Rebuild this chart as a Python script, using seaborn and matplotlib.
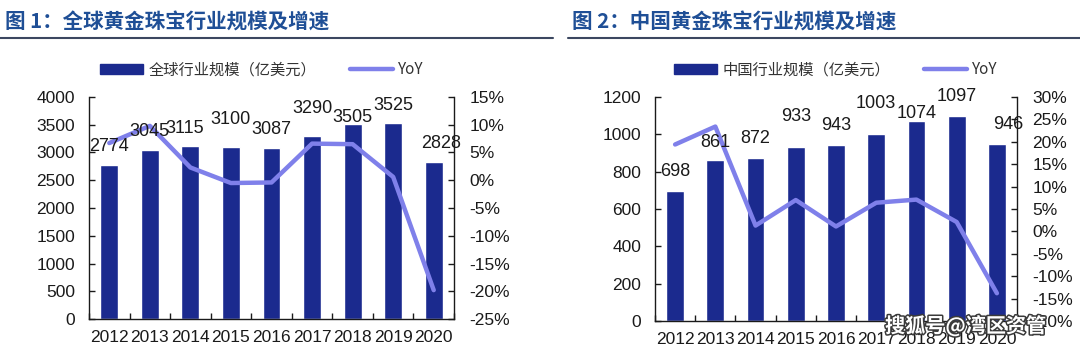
import numpy as np
import matplotlib
matplotlib.use('Agg')
import matplotlib.pyplot as plt
import matplotlib.patheffects as pe
from matplotlib.patches import Patch
from matplotlib.lines import Line2D
from matplotlib.ticker import FuncFormatter, MultipleLocator
import seaborn as sns

# data
years = ['2012', '2013', '2014', '2015', '2016', '2017', '2018', '2019', '2020']
global_size = [2774, 3045, 3115, 3100, 3087, 3290, 3505, 3525, 2828]
global_yoy = [6.7, 9.8, 2.3, -0.5, -0.4, 6.6, 6.5, 0.6, -19.8]
china_size = [698, 861, 872, 933, 943, 1003, 1074, 1097, 946]
china_yoy = [19.4, 23.4, 1.3, 7.0, 1.1, 6.4, 7.1, 2.1, -13.8]

title_left = '图 1：全球黄金珠宝行业规模及增速'
title_right = '图 2：中国黄金珠宝行业规模及增速'
legend_left = '全球行业规模（亿美元）'
legend_right = '中国行业规模（亿美元）'
watermark = '搜狐号@湾区资管'

# label nudges (points) to mimic the hand placed labels
nudge_left = [(0, 13), (0, 13), (-4, 13), (0, 20), (0, 13), (0, 20), (0, 5), (0, 13), (5, 13)]
nudge_right = [(0, 14), (0, 13), (0, 14), (0, 22), (0, 14), (0, 22), (0, 5), (0, 14), (8, 14)]

BAR = '#1b2a8e'
LINE = '#7f80ea'
TITLE = '#1f4f96'
TXT = '#1a1a1a'

sns.set_theme(style='white')
plt.rcParams['font.family'] = ['Liberation Sans', 'Noto Sans CJK SC', 'DejaVu Sans']
CJK = ['Noto Sans CJK SC', 'DejaVu Sans']

fig = plt.figure(figsize=(10.8, 3.52), dpi=100)
ax_l = fig.add_axes([89 / 1080, 1 - 319 / 352, 365 / 1080, 222 / 352])
ax_r = fig.add_axes([655 / 1080, 1 - 321 / 352, 362 / 1080, 224 / 352])


def draw(ax, sizes, yoy, ylim, ystep, ylim2, nudges):
    sns.barplot(x=years, y=sizes, color=BAR, saturation=1, width=0.44, ax=ax)
    ax.set_xlim(-0.5, len(years) - 0.5)
    ax.set_ylim(*ylim)
    ax.yaxis.set_major_locator(MultipleLocator(ystep))
    ax.set_xlabel('')
    ax.set_ylabel('')
    ax.set_xticks(np.arange(-0.5, len(years), 1), minor=True)
    ax.tick_params(axis='x', which='major', length=0, pad=8, labelsize=12.5, colors=TXT)
    ax.tick_params(axis='x', which='minor', direction='in', length=4, width=1, bottom=True, color='k')
    ax.tick_params(axis='y', direction='in', length=4, width=1, left=True, pad=10, labelsize=12.5, colors=TXT)
    ax.tick_params(axis='y', color='k')
    for s in ['top', 'right']:
        ax.spines[s].set_visible(False)
    for s in ['left', 'bottom']:
        ax.spines[s].set_color('k')
        ax.spines[s].set_linewidth(1)

    ax2 = ax.twinx()
    sns.lineplot(x=np.arange(len(years)), y=yoy, color=LINE, linewidth=3.2, ax=ax2, legend=False)
    ax2.set_ylim(*ylim2)
    ax2.yaxis.set_major_locator(MultipleLocator(5))
    ax2.yaxis.set_major_formatter(FuncFormatter(lambda v, p: f'{v:.0f}%'))
    ax2.set_xlim(-0.5, len(years) - 0.5)
    ax2.set_ylabel('')
    ax2.tick_params(axis='y', direction='in', length=4, width=1, right=True, pad=11, labelsize=12.5, colors=TXT)
    ax2.tick_params(axis='y', color='k')
    for s in ['top', 'left', 'bottom']:
        ax2.spines[s].set_visible(False)
    ax2.spines['right'].set_color('k')
    ax2.spines['right'].set_linewidth(1)

    for i, v in enumerate(sizes):
        ax2.annotate(str(v), xy=(i, v), xycoords=ax.transData, xytext=nudges[i],
                     textcoords='offset points', ha='center', va='center',
                     fontsize=13, color=TXT, zorder=5)
    return ax2


draw(ax_l, global_size, global_yoy, (0, 4000), 500, (-25, 15), nudge_left)
draw(ax_r, china_size, china_yoy, (0, 1200), 200, (-20, 30), nudge_right)

# titles and rules
fig.text(5 / 1080, 1 - 22 / 352, title_left, family=CJK, fontsize=14.8, fontweight='bold',
         color=TITLE, va='center', ha='left')
fig.text(572 / 1080, 1 - 22 / 352, title_right, family=CJK, fontsize=14.8, fontweight='bold',
         color=TITLE, va='center', ha='left')
fig.add_artist(Line2D([0, 553 / 1080], [1 - 38 / 352] * 2, color='#3b4760', linewidth=1.5))
fig.add_artist(Line2D([568 / 1080, 1], [1 - 38 / 352] * 2, color='#3b4760', linewidth=1.5))

# legends
for lab, cx in [(legend_left, 262 / 1080), (legend_right, 836 / 1080)]:
    handles = [Patch(facecolor=BAR, edgecolor=BAR, label=lab),
               Line2D([], [], color=LINE, linewidth=3.2, label='YoY')]
    leg = fig.legend(handles=handles, loc='center', bbox_to_anchor=(cx, 1 - 70 / 352), ncol=2,
                     frameon=False, handlelength=2.8, handleheight=0.65, handletextpad=0.35,
                     columnspacing=2.2, prop={'family': CJK, 'size': 11})
    for t in leg.get_texts():
        t.set_color('#333333')

fig.text(885 / 1080, 1 - 326 / 352, watermark, family=CJK, fontsize=14.5, fontweight='bold',
         color='white', va='center', ha='left',
         path_effects=[pe.withStroke(linewidth=2.2, foreground='#3a3a3a')])

fig.savefig('out.png', dpi=100)
